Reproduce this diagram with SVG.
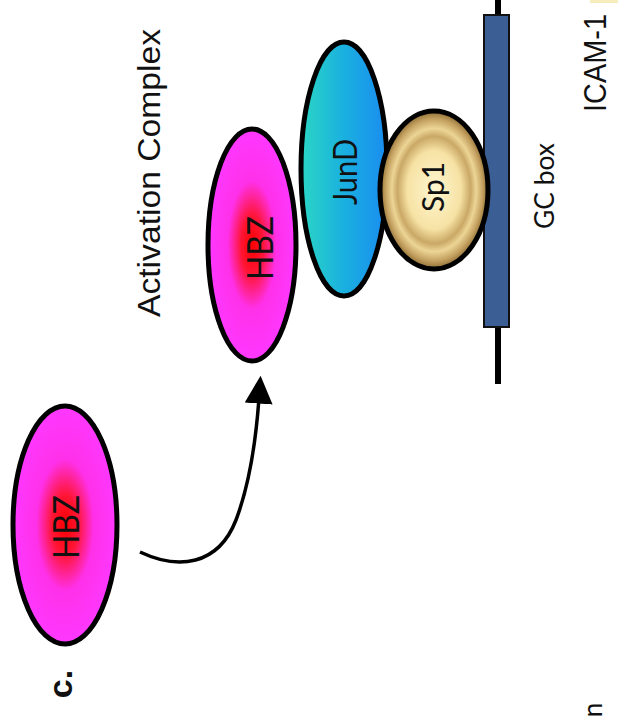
<svg xmlns="http://www.w3.org/2000/svg" width="621" height="720" viewBox="0 0 621 720">
<defs>
<radialGradient id="gHbz" cx="0.5" cy="0.5" r="0.5">
<stop offset="0" stop-color="#ff0000"/>
<stop offset="0.25" stop-color="#ff1535"/>
<stop offset="0.55" stop-color="#ff30e8"/>
<stop offset="1" stop-color="#ff38ff"/>
</radialGradient>
<linearGradient id="gJun" x1="0" y1="0" x2="1" y2="0">
<stop offset="0" stop-color="#2ad6c4"/>
<stop offset="0.5" stop-color="#1ab0e0"/>
<stop offset="1" stop-color="#1a8cf0"/>
</linearGradient>
<radialGradient id="gSp1" cx="0.5" cy="0.5" r="0.5">
<stop offset="0" stop-color="#fff6d0"/>
<stop offset="0.5" stop-color="#f6e2a4"/>
<stop offset="0.68" stop-color="#caa866"/>
<stop offset="0.78" stop-color="#ecd596"/>
<stop offset="0.9" stop-color="#c4a160"/>
<stop offset="1" stop-color="#8c6b32"/>
</radialGradient>
<marker id="ah" viewBox="0 0 10 10" refX="2" refY="5" markerWidth="8" markerHeight="8" markerUnits="strokeWidth" orient="auto">
<path d="M0,0 L10,5 L0,10 z" fill="#000"/>
</marker>
<style>
.prot{stroke:#000;stroke-width:5}
.lbl{font-family:Lato,"Open Sans","Liberation Sans",sans-serif;fill:#111;text-anchor:middle}
.ar{font-family:"Liberation Sans",Arial,sans-serif;fill:#111;text-anchor:middle}
</style>
</defs>
<rect width="621" height="720" fill="#fff"/>
<rect x="590" y="0" width="28" height="3" fill="#f6ecbc"/>

<g id="label-c">
<text class="ar" font-weight="bold" font-size="34" transform="translate(72,684) rotate(-90)">c.</text>
</g>

<g id="title">
<text class="ar" font-size="32" textLength="288" lengthAdjust="spacingAndGlyphs" transform="translate(160,173) rotate(-90)">Activation Complex</text>
</g>

<g id="hbz-free">
<ellipse cx="65" cy="525" rx="52" ry="119" fill="url(#gHbz)" class="prot"/>
<text class="lbl" font-size="36" textLength="64" lengthAdjust="spacingAndGlyphs" fill="#300" transform="translate(79,527) rotate(-90)">HBZ</text>
</g>

<g id="connectors">
<path d="M140,552 C178,570 218,566 236,520 C250,483 256,440 259,398" fill="none" stroke="#000" stroke-width="3.5" marker-end="url(#ah)"/>
</g>

<g id="dna">
<line x1="498" y1="0" x2="498" y2="384" stroke="#000" stroke-width="6"/>
<rect x="484" y="15" width="25" height="312" fill="#3b5f95" stroke="#111" stroke-width="2"/>
</g>

<g id="jund">
<ellipse cx="344" cy="169" rx="43" ry="127" fill="url(#gJun)" class="prot"/>
<text class="lbl" font-size="32" textLength="66" lengthAdjust="spacingAndGlyphs" fill="#1a2550" transform="translate(357,172) rotate(-90)">JunD</text>
</g>

<g id="hbz-complex">
<ellipse cx="252" cy="245" rx="44" ry="116" fill="url(#gHbz)" class="prot"/>
<text class="lbl" font-size="36" textLength="64" lengthAdjust="spacingAndGlyphs" fill="#300" transform="translate(273,248) rotate(-90)">HBZ</text>
</g>

<g id="sp1">
<ellipse cx="434" cy="190" rx="54" ry="79" fill="url(#gSp1)" class="prot"/>
<text class="lbl" font-size="31" textLength="50" lengthAdjust="spacingAndGlyphs" fill="#2a2010" transform="translate(444,187) rotate(-90)">Sp1</text>
</g>

<g id="gcbox-label">
<text class="lbl" font-size="26" textLength="86" lengthAdjust="spacingAndGlyphs" transform="translate(554,186) rotate(-90)">GC box</text>
</g>

<g id="icam">
<text class="ar" font-size="31" textLength="98" lengthAdjust="spacingAndGlyphs" transform="translate(606,63) rotate(-90)">ICAM-1</text>
</g>

<g id="cut-text">
<text class="lbl" font-size="26" transform="translate(602,710) rotate(-90)">n</text>
</g>
</svg>
